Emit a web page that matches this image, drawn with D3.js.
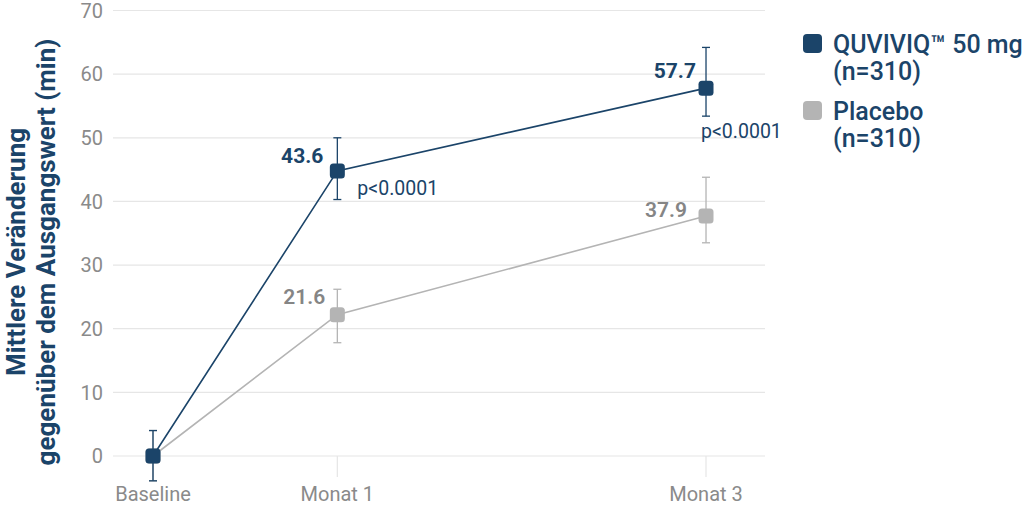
<!DOCTYPE html>
<html lang="de">
  <head>
    <meta charset="UTF-8" />
    <title>QUVIVIQ vs Placebo</title>
    <script src="https://d3js.org/d3.v7.min.js"></script>
    <style>
      body { margin: 0; background: #fff; }
      svg { display: block; font-family: Roboto, "Noto Sans", sans-serif; }
    </style>
  </head>
  <body>
    <svg id="chart" width="1024" height="507"></svg>
    <script>
      // time points (months) and their labels
      const months = [0, 1, 3];
      const xLabels = ["Baseline", "Monat 1", "Monat 3"];

      // plotted means and error bars
      const quviviqMean = [0, 44.8, 57.8];
      const quviviqLow = [-3.9, 40.3, 53.4];
      const quviviqHigh = [4.0, 50.0, 64.2];
      const quviviqLabels = ["", "43.6", "57.7"];

      const placeboMean = [0, 22.2, 37.7];
      const placeboLow = [-3.9, 17.8, 33.5];
      const placeboHigh = [4.0, 26.2, 43.8];
      const placeboLabels = ["", "21.6", "37.9"];

      const pLabels = ["", "p<0.0001", "p<0.0001"];
      const yTicks = [0, 10, 20, 30, 40, 50, 60, 70];

      const navy = "#1b4469";
      const grey = "#b4b4b4";
      const tickGrey = "#8a8a8a";

      const svg = d3.select("#chart");

      const x = d3.scaleLinear().domain([-0.217, 3.32]).range([113, 765]);
      const y = d3.scaleLinear().domain([0, 70]).range([456, 10.5]);

      // gridlines + y labels
      const grid = svg.append("g");
      grid
        .selectAll("line")
        .data(yTicks)
        .enter()
        .append("line")
        .attr("x1", x.range()[0])
        .attr("x2", x.range()[1])
        .attr("y1", (d) => y(d))
        .attr("y2", (d) => y(d))
        .attr("stroke", "#e6e6e6")
        .attr("stroke-width", 1.2);

      grid
        .selectAll("text")
        .data(yTicks)
        .enter()
        .append("text")
        .attr("x", 103)
        .attr("y", (d) => y(d))
        .attr("dy", "0.36em")
        .attr("text-anchor", "end")
        .attr("font-size", 20)
        .attr("fill", tickGrey)
        .text((d) => d);

      // x ticks and labels
      const xa = svg.append("g");
      xa.selectAll("line")
        .data(months)
        .enter()
        .append("line")
        .attr("x1", (d) => x(d))
        .attr("x2", (d) => x(d))
        .attr("y1", y(0))
        .attr("y2", y(0) + 21)
        .attr("stroke", "#e6e6e6")
        .attr("stroke-width", 1.2);
      xa.selectAll("text")
        .data(months)
        .enter()
        .append("text")
        .attr("x", (d) => x(d))
        .attr("y", 501)
        .attr("text-anchor", "middle")
        .attr("font-size", 20)
        .attr("fill", tickGrey)
        .text((d, i) => xLabels[i]);

      // y title
      const yt = svg
        .append("text")
        .attr("transform", "translate(0,252) rotate(-90)")
        .attr("text-anchor", "middle")
        .attr("font-size", 26)
        .attr("font-weight", 700)
        .attr("fill", navy);
      yt.append("tspan").attr("x", 0).attr("y", 25).text("Mittlere Veränderung");
      yt.append("tspan").attr("x", 0).attr("y", 55).text("gegenüber dem Ausgangswert (min)");

      function drawSeries(mean, low, high, color) {
        const g = svg.append("g");
        const pts = months.map((m, i) => ({ m, v: mean[i], lo: low[i], hi: high[i] }));
        g.append("path")
          .datum(pts)
          .attr("fill", "none")
          .attr("stroke", color)
          .attr("stroke-width", 1.6)
          .attr("d", d3.line().x((d) => x(d.m)).y((d) => y(d.v)));
        const eb = g.selectAll("g.eb").data(pts).enter().append("g");
        eb.append("line")
          .attr("x1", (d) => x(d.m))
          .attr("x2", (d) => x(d.m))
          .attr("y1", (d) => y(d.lo))
          .attr("y2", (d) => y(d.hi))
          .attr("stroke", color)
          .attr("stroke-width", 1.3);
        [(d) => d.lo, (d) => d.hi].forEach((f) => {
          eb.append("line")
            .attr("x1", (d) => x(d.m) - 4)
            .attr("x2", (d) => x(d.m) + 4)
            .attr("y1", (d) => y(f(d)))
            .attr("y2", (d) => y(f(d)))
            .attr("stroke", color)
            .attr("stroke-width", 1.3);
        });
        eb.append("rect")
          .attr("x", (d) => x(d.m) - 7.5)
          .attr("y", (d) => y(d.v) - 7.5)
          .attr("width", 15)
          .attr("height", 15)
          .attr("rx", 3.5)
          .attr("fill", color);
      }

      drawSeries(placeboMean, placeboLow, placeboHigh, grey);
      drawSeries(quviviqMean, quviviqLow, quviviqHigh, navy);

      // value labels (offsets differ a bit per point, as in the original)
      const qOff = [[0, 0], [-14, -8], [-10, -10]];
      const pOff = [[0, 0], [-12, -11], [-19, 1]];
      const lab = svg.append("g").attr("font-size", 21).attr("font-weight", 700);
      lab.selectAll("text.q")
        .data(months)
        .enter()
        .append("text")
        .attr("x", (d, i) => x(d) + qOff[i][0])
        .attr("y", (d, i) => y(quviviqMean[i]) + qOff[i][1])
        .attr("text-anchor", "end")
        .attr("fill", navy)
        .text((d, i) => quviviqLabels[i]);
      lab.selectAll("text.p")
        .data(months)
        .enter()
        .append("text")
        .attr("x", (d, i) => x(d) + pOff[i][0])
        .attr("y", (d, i) => y(placeboMean[i]) + pOff[i][1])
        .attr("text-anchor", "end")
        .attr("fill", "#858585")
        .attr("font-weight", 600)
        .text((d, i) => placeboLabels[i]);

      // p-values
      const pv = svg.append("g").attr("font-size", 19.5).attr("fill", navy);
      pv.append("text")
        .attr("x", x(months[1]) + 20)
        .attr("y", y(quviviqMean[1]) + 24)
        .text(pLabels[1]);
      pv.append("text")
        .attr("x", x(months[2]) - 5)
        .attr("y", y(quviviqMean[2]) + 50)
        .text(pLabels[2]);

      // legend
      const legendItems = [
        { color: navy, lines: ["QUVIVIQ™ 50 mg", "(n=310)"], y: 34 },
        { color: grey, lines: ["Placebo", "(n=310)"], y: 101 },
      ];
      const lg = svg.append("g");
      legendItems.forEach((it) => {
        lg.append("rect")
          .attr("x", 803)
          .attr("y", it.y)
          .attr("width", 19)
          .attr("height", 19)
          .attr("rx", 4)
          .attr("fill", it.color);
        const t = lg
          .append("text")
          .attr("font-size", 25)
          .attr("font-weight", 500)
          .attr("fill", navy);
        it.lines.forEach((l, i) => {
          t.append("tspan")
            .attr("x", 833)
            .attr("y", it.y + 19 + i * 26.5)
            .text(l);
        });
      });
    </script>
  </body>
</html>
